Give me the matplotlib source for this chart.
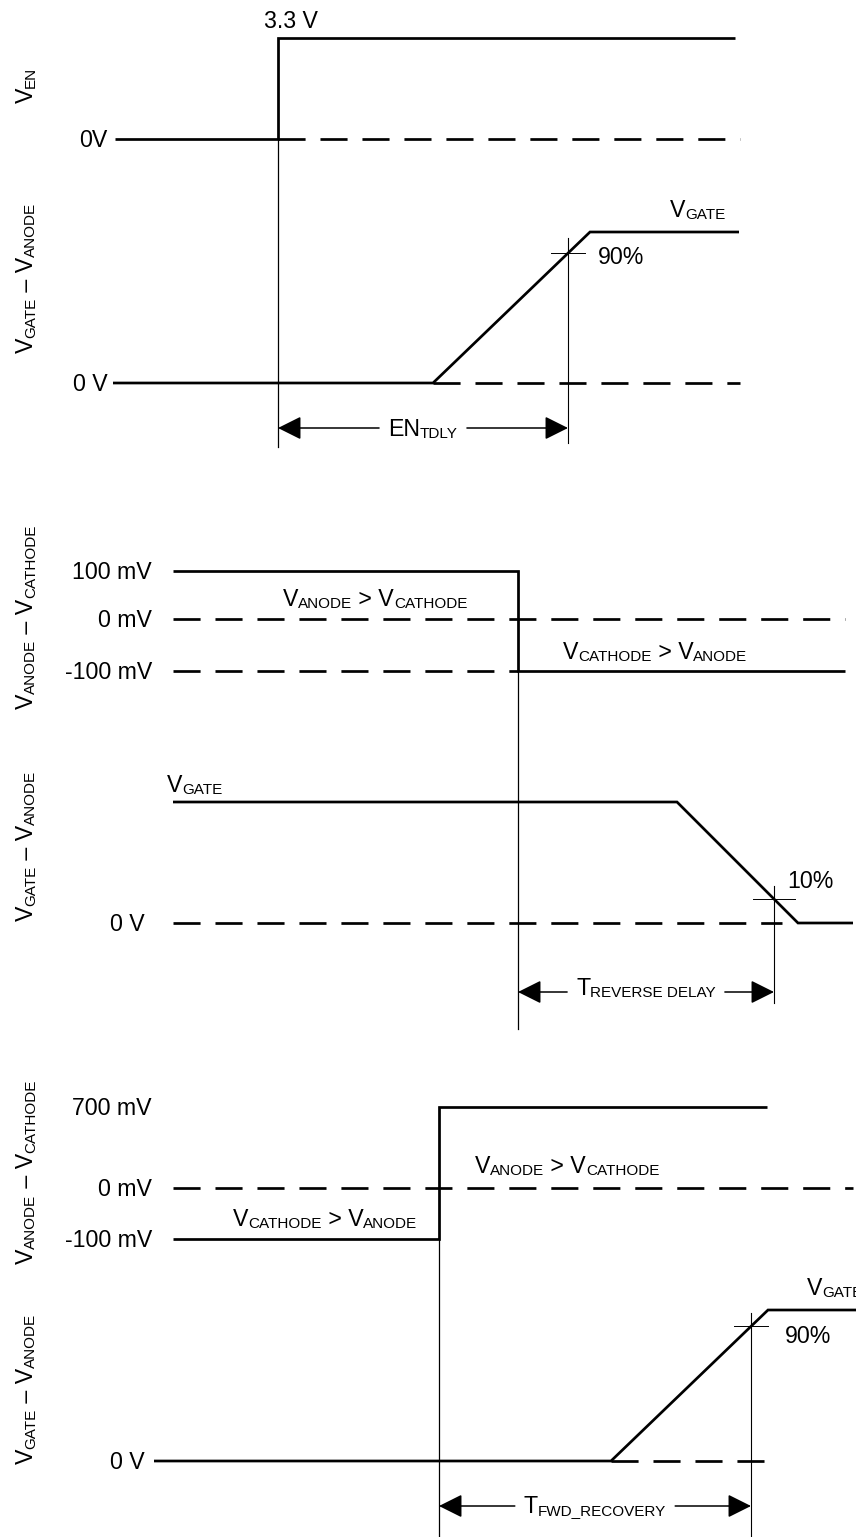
import numpy as np
import matplotlib
matplotlib.use("Agg")
import matplotlib.pyplot as plt

plt.rcParams['font.family'] = ['Liberation Sans', 'DejaVu Sans']

W, H = 856, 1537
MAIN, SUB = 16.7, 11
THICK, THIN = 1.95, 0.9
DASH = (0, (10, 5.5))

# --- panel 1: EN high -> gate drive on ---
en_t = [115, 278, 278, 735]
en_v = [0, 0, 3.3, 3.3]          # V
en_levels, en_rows = [0, 3.3], [139, 38]
en_ref = [278, 740]              # dashed 0 V continuation

gate1_t = [113, 433, 590, 739]
gate1_v = [0, 0, 100, 100]       # % of V_GATE
gate1_levels, gate1_rows = [0, 100], [383, 232]
gate1_ref = [433, 740]
t_en = 278
t_90_1 = 568

# --- panel 2: reverse current -> gate off ---
ac2_t = [173, 518, 518, 845]
ac2_v = [100, 100, -100, -100]   # mV
ac2_levels, ac2_rows = [-100, 0, 100], [671, 619, 571]
ac2_labels = ['-100 mV', '0 mV', '100 mV']
ac2_ref0 = [173, 845]
ac2_refneg = [173, 518]

gate2_t = [173, 677, 798, 853]
gate2_v = [100, 100, 0, 0]
gate2_levels, gate2_rows = [0, 100], [923, 802]
gate2_ref = [173, 782]
t_rev = 518
t_10_2 = 774

# --- panel 3: forward recovery ---
ac3_t = [173, 439, 439, 767]
ac3_v = [-100, -100, 700, 700]   # mV
ac3_levels, ac3_rows = [-100, 0, 700], [1239, 1188, 1107]
ac3_labels = ['-100 mV', '0 mV', '700 mV']
ac3_ref0 = [173, 853]

gate3_t = [154, 611, 768, 856]
gate3_v = [0, 0, 100, 100]
gate3_levels, gate3_rows = [0, 100], [1461, 1310]
gate3_ref = [611, 770]
t_fwd = 439
t_90_3 = 751


fig = plt.figure(figsize=(W / 100, H / 100), dpi=100)
ax = fig.add_axes([0, 0, 1, 1])
ax.set_xlim(0, W)
ax.set_ylim(H, 0)
ax.axis('off')


def scale(levels, rows):
    return lambda v: np.interp(v, levels, rows)


def trace(t, v, sc):
    ax.plot(t, sc(np.array(v, dtype=float)), color='black', lw=THICK,
            solid_joinstyle='miter', solid_capstyle='butt', zorder=3)


def dashed(span, y):
    ax.plot(span, [y, y], color='black', lw=THICK, linestyle=DASH,
            dash_capstyle='butt', zorder=3)


def vline(x, y0, y1, lw=THIN):
    ax.plot([x, x], [y0, y1], color='black', lw=lw, zorder=2)


def cross(t, y, half=18, up=14, down=None):
    ax.plot([t - half, t + half], [y, y], color='black', lw=0.7, zorder=2)
    vline(t, y - up, down, lw=0.8)


def chain(x, y, parts, rot=0):
    arts = []
    for s, sub in parts:
        fs = SUB if sub else MAIN
        if not arts:
            if rot:
                a = ax.text(x, y, s, fontsize=fs, rotation=90, ha='right', va='bottom')
            else:
                a = ax.text(x, y, s, fontsize=fs, ha='left', va='baseline')
        else:
            if rot:
                a = ax.annotate(s, xy=(1, 1), xycoords=arts[-1], fontsize=fs,
                                rotation=90, ha='right', va='bottom', annotation_clip=False)
            else:
                a = ax.annotate(s, xy=(1, 0), xycoords=arts[-1], fontsize=fs,
                                ha='left', va='bottom', annotation_clip=False)
        arts.append(a)
    return arts


def extent(arts):
    r = fig.canvas.get_renderer()
    bb = [a.get_window_extent(r) for a in arts]
    return (min(b.x0 for b in bb), max(b.x1 for b in bb),
            min(b.y0 for b in bb), max(b.y1 for b in bb))


def V(sub):
    return [('V', False), (sub, True)]


# ---------------- panel 1 ----------------
en_sc = scale(en_levels, en_rows)
g1_sc = scale(gate1_levels, gate1_rows)
trace(en_t, en_v, en_sc)
dashed(en_ref, en_sc(0))
trace(gate1_t, gate1_v, g1_sc)
dashed(gate1_ref, g1_sc(0))
vline(t_en, en_sc(3.3), 447)
y90_1 = np.interp(t_90_1, gate1_t, g1_sc(np.array(gate1_v, float)))
cross(t_90_1, y90_1, half=17, up=15, down=443)

ax.text(291, 28, '3.3 V', fontsize=MAIN, ha='center', va='baseline')
ax.text(107, en_sc(0) + 8, '0V', fontsize=MAIN, ha='right', va='baseline')
ax.text(108, g1_sc(0) + 8, '0 V', fontsize=MAIN, ha='right', va='baseline')
ax.text(598, 264, '90%', fontsize=MAIN, ha='left', va='baseline')
chain(670, 217, V('GATE'))

# ---------------- panel 2 ----------------
a2_sc = scale(ac2_levels, ac2_rows)
g2_sc = scale(gate2_levels, gate2_rows)
trace(ac2_t, ac2_v, a2_sc)
dashed(ac2_ref0, a2_sc(0))
dashed(ac2_refneg, a2_sc(-100))
trace(gate2_t, gate2_v, g2_sc)
dashed(gate2_ref, g2_sc(0))
vline(t_rev, a2_sc(100), 1029)
y10_2 = np.interp(t_10_2, gate2_t, g2_sc(np.array(gate2_v, float)))
cross(t_10_2, y10_2, half=21, up=13, down=1003)

for lv, lab in zip(ac2_levels, ac2_labels):
    ax.text(152, a2_sc(lv) + 8, lab, fontsize=MAIN, ha='right', va='baseline')
ax.text(145, g2_sc(0) + 8, '0 V', fontsize=MAIN, ha='right', va='baseline')
ax.text(787, 888, '10%', fontsize=MAIN, ha='left', va='baseline')
chain(283, 606, V('ANODE') + [(' > V', False), ('CATHODE', True)])
chain(563, 659, V('CATHODE') + [(' > V', False), ('ANODE', True)])
chain(167, 792, V('GATE'))

# ---------------- panel 3 ----------------
a3_sc = scale(ac3_levels, ac3_rows)
g3_sc = scale(gate3_levels, gate3_rows)
trace(ac3_t, ac3_v, a3_sc)
dashed(ac3_ref0, a3_sc(0))
trace(gate3_t, gate3_v, g3_sc)
dashed(gate3_ref, g3_sc(0))
vline(t_fwd, a3_sc(700), H)
y90_3 = np.interp(t_90_3, gate3_t, g3_sc(np.array(gate3_v, float)))
cross(t_90_3, y90_3, half=17, up=13, down=H)

for lv, lab in zip(ac3_levels, ac3_labels):
    ax.text(152, a3_sc(lv) + 8, lab, fontsize=MAIN, ha='right', va='baseline')
ax.text(145, g3_sc(0) + 8, '0 V', fontsize=MAIN, ha='right', va='baseline')
ax.text(785, 1343, '90%', fontsize=MAIN, ha='left', va='baseline')
chain(233, 1226, V('CATHODE') + [(' > V', False), ('ANODE', True)])
chain(475, 1173, V('ANODE') + [(' > V', False), ('CATHODE', True)])
chain(807, 1295, V('GATE'))

# ---------------- rotated axis names ----------------
dash_sep = [(' \u2013 V', False)]
side = [
    (85, V('EN')),
    (278, V('GATE') + dash_sep + [('ANODE', True)]),
    (617, V('ANODE') + dash_sep + [('CATHODE', True)]),
    (846, V('GATE') + dash_sep + [('ANODE', True)]),
    (1172, V('ANODE') + dash_sep + [('CATHODE', True)]),
    (1389, V('GATE') + dash_sep + [('ANODE', True)]),
]
side_arts = [(cy, chain(38, cy, parts, rot=90)) for cy, parts in side]

# ---------------- delay arrows ----------------
delays = [
    (t_en, t_90_1, 428, 436, [('EN', False), ('TDLY', True)]),
    (t_rev, t_10_2, 992, 995, [('T', False), ('REVERSE DELAY', True)]),
    (t_fwd, t_90_3, 1506, 1513, [('T', False), ('FWD_RECOVERY', True)]),
]
delay_arts = [(d, chain(d[0], d[3], d[4])) for d in delays]

# centre the chained labels
fig.canvas.draw()
for cy, arts in side_arts:
    x0, x1, y0, y1 = extent(arts)
    shift = (H - cy) - (y0 + y1) / 2
    px, py = arts[0].get_position()
    arts[0].set_position((px, py - shift))
for d, arts in delay_arts:
    x0, x1, y0, y1 = extent(arts)
    shift = (d[0] + d[1]) / 2 - (x0 + x1) / 2
    px, py = arts[0].get_position()
    arts[0].set_position((px + shift, py))
fig.canvas.draw()

gap = 9
for d, arts in delay_arts:
    x0, x1, _, _ = extent(arts)
    t0, t1, ya = d[0], d[1], d[2]
    props = dict(arrowstyle='-|>,head_length=1.0,head_width=0.5', mutation_scale=14.4,
                 lw=1.1, color='black', shrinkA=0, shrinkB=0)
    ax.annotate('', xy=(t0, ya), xytext=(x0 - gap, ya), arrowprops=props)
    ax.annotate('', xy=(t1, ya), xytext=(x1 + gap, ya), arrowprops=props)

fig.savefig('out.png', dpi=100)
